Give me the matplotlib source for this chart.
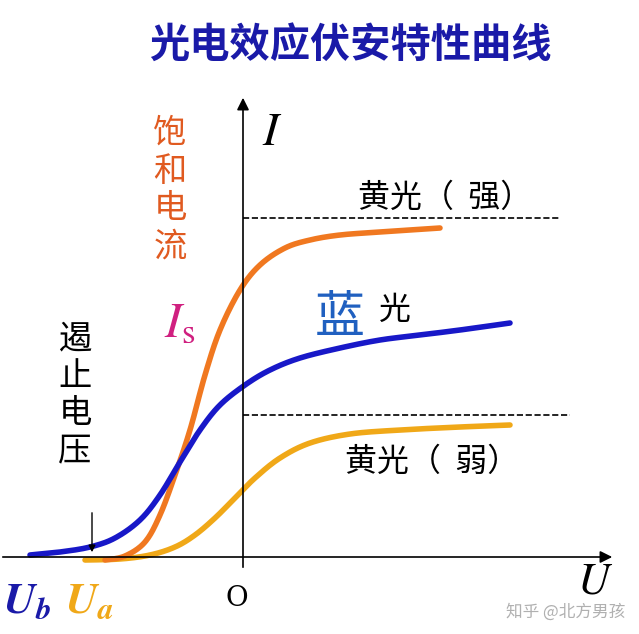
import matplotlib.pyplot as plt
import numpy as np

plt.rcParams['font.family'] = ['Noto Sans CJK SC', 'DejaVu Sans']
plt.rcParams['mathtext.fontset'] = 'stix'

# curve points in picture coordinates (x right, y down)
blue_x = [30, 60, 90, 115, 140, 160, 180, 200, 220, 245, 270, 300, 340, 380, 420, 460, 510]
blue_y = [555, 552, 547, 538, 520, 495, 462, 430, 405, 385, 370, 358, 348, 340, 335, 330, 323]
strong_x = [105, 125, 145, 160, 175, 190, 205, 220, 240, 260, 285, 310, 340, 380, 440]
strong_y = [560, 556, 542, 515, 475, 430, 375, 330, 290, 265, 248, 240, 235, 232, 228]
weak_x = [85, 120, 150, 175, 195, 215, 235, 255, 280, 310, 350, 400, 460, 510]
weak_y = [560, 559, 555, 547, 535, 518, 498, 478, 458, 443, 434, 430, 427, 425]
sat_strong_y = 218
sat_weak_y = 415


def smooth(x, y, n=20):
    # Catmull-Rom through the points
    p = np.column_stack([x, y]).astype(float)
    p = np.vstack([p[0], p, p[-1]])
    out = []
    t = np.linspace(0, 1, n, endpoint=False)[:, None]
    for i in range(1, len(p) - 2):
        p0, p1, p2, p3 = p[i - 1], p[i], p[i + 1], p[i + 2]
        seg = 0.5 * ((2 * p1) + (-p0 + p2) * t + (2 * p0 - 5 * p1 + 4 * p2 - p3) * t ** 2
                     + (-p0 + 3 * p1 - 3 * p2 + p3) * t ** 3)
        out.append(seg)
    out.append(p[-2][None, :])
    out = np.vstack(out)
    return out[:, 0], out[:, 1]


fig = plt.figure(figsize=(6.39, 6.34), dpi=100)
ax = fig.add_axes([0, 0, 1, 1])
ax.set_xlim(0, 639)
ax.set_ylim(634, 0)
ax.axis('off')

# axes arrows
ax.annotate('', xy=(615, 557), xytext=(0, 557),
            arrowprops=dict(arrowstyle='-|>', color='black', lw=1.2, mutation_scale=18))
ax.annotate('', xy=(243, 95), xytext=(243, 570),
            arrowprops=dict(arrowstyle='-|>', color='black', lw=1.2, mutation_scale=18))

ax.plot([243, 560], [sat_strong_y] * 2, ls='--', color='black', lw=1.2)
ax.plot([243, 570], [sat_weak_y] * 2, ls='--', color='black', lw=1.2)

ax.plot(*smooth(weak_x, weak_y), color='#f0a818', lw=4, solid_capstyle='round')
ax.plot(*smooth(strong_x, strong_y), color='#f07820', lw=4, solid_capstyle='round')
ax.plot(*smooth(blue_x, blue_y), color='#1818c8', lw=4, solid_capstyle='round')

ax.annotate('', xy=(92, 555), xytext=(92, 510),
            arrowprops=dict(arrowstyle='-|>', color='black', lw=1, mutation_scale=10))

ax.text(350, 45, '光电效应伏安特性曲线', color='#1a1aa8', fontsize=29,
        fontweight='bold', ha='center', va='center')
ax.text(170, 190, '饱\n和\n电\n流', color='#e05a20', fontsize=24,
        ha='center', va='center', linespacing=1.1)
ax.text(180, 322, '$I_{\\rm s}$', color='#d02080', fontsize=36, ha='center', va='center')
ax.text(75, 395, '遏\n止\n电\n压', color='black', fontsize=24,
        ha='center', va='center', linespacing=1.1)
ax.text(272, 132, '$I$', fontsize=34, ha='center', va='center')
ax.text(445, 198, '黄光（  强）', fontsize=23, ha='center', va='center')
ax.text(340, 318, '蓝', fontsize=36, color='#2060c0', ha='center', va='center')
ax.text(395, 310, '光', fontsize=23, ha='center', va='center')
ax.text(432, 462, '黄光（  弱）', fontsize=23, ha='center', va='center')
ax.text(3, 600, '$\\mathbfit{U_b}$', color='#1a1aa8', fontsize=32, ha='left', va='center')
ax.text(90, 600, '$\\mathbfit{U_a}$', color='#f0a818', fontsize=32, ha='center', va='center')
ax.text(237, 598, 'O', fontsize=20, ha='center', va='center', family='DejaVu Serif')
ax.text(595, 580, '$U$', fontsize=32, ha='center', va='center')
ax.text(625, 612, '知乎 @北方男孩', fontsize=12, color='#b0b0b0', ha='right', va='center')

fig.savefig('out.png', dpi=100)
